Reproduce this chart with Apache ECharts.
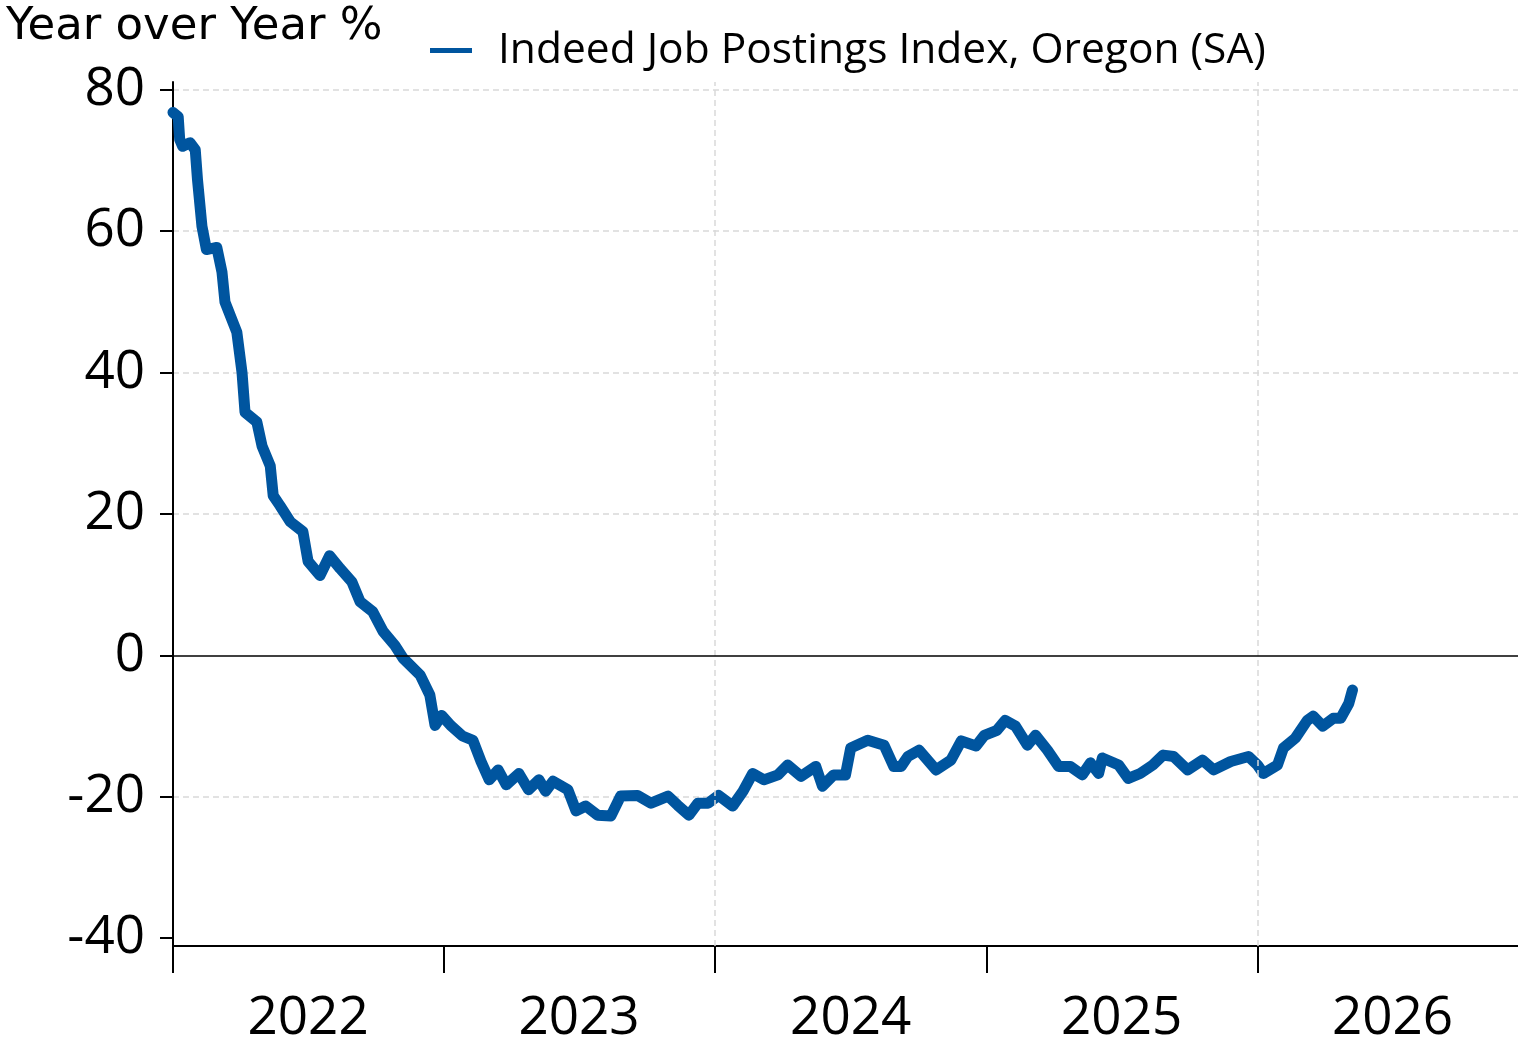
<!DOCTYPE html>
<html>
<head>
<meta charset="utf-8">
<script src="https://cdn.jsdelivr.net/npm/echarts@6/dist/echarts.min.js"></script>
<style>
  html, body { margin: 0; padding: 0; background: #fff; }
  #chart { width: 1518px; height: 1045px; }
</style>
</head>
<body>
<div id="chart"></div>
<script>
// Indeed Job Postings Index, Oregon (SA), year over year %
var dates = [
    '2022-01-01', '2022-01-08', '2022-01-10', '2022-01-14', '2022-01-24', '2022-01-31', '2022-02-03', '2022-02-09', '2022-02-15', '2022-03-01',
    '2022-03-08', '2022-03-12', '2022-03-28', '2022-04-04', '2022-04-08', '2022-04-24', '2022-05-01', '2022-05-12', '2022-05-16', '2022-05-25',
    '2022-06-08', '2022-06-25', '2022-07-02', '2022-07-18', '2022-07-31', '2022-08-14', '2022-08-30', '2022-09-10', '2022-09-27', '2022-10-11',
    '2022-10-27', '2022-11-07', '2022-11-30', '2022-12-13', '2022-12-20', '2022-12-29',
    '2023-01-10', '2023-01-26', '2023-02-09', '2023-02-20', '2023-03-03', '2023-03-15', '2023-03-26', '2023-04-12', '2023-04-25', '2023-05-09',
    '2023-05-18', '2023-05-28', '2023-06-17', '2023-06-28', '2023-07-11', '2023-07-27', '2023-08-14', '2023-08-27', '2023-09-19', '2023-10-07',
    '2023-10-30', '2023-11-12', '2023-11-27', '2023-12-09', '2023-12-23',
    '2024-01-06', '2024-01-25', '2024-02-08', '2024-02-21', '2024-03-07', '2024-03-26', '2024-04-08', '2024-04-26', '2024-05-16', '2024-05-25',
    '2024-06-09', '2024-06-25', '2024-07-02', '2024-07-25', '2024-08-16', '2024-08-29', '2024-09-08', '2024-09-17', '2024-10-02', '2024-10-25',
    '2024-11-14', '2024-11-28', '2024-12-18', '2024-12-29',
    '2025-01-15', '2025-01-26', '2025-02-09', '2025-02-25', '2025-03-08', '2025-03-24', '2025-04-08', '2025-04-24', '2025-05-10', '2025-05-21',
    '2025-06-01', '2025-06-06', '2025-06-28', '2025-07-11', '2025-07-27', '2025-08-13', '2025-08-27', '2025-09-10', '2025-09-29', '2025-10-19',
    '2025-11-03', '2025-11-26', '2025-12-20',
    '2026-01-01', '2026-01-09', '2026-01-28', '2026-02-05', '2026-02-21', '2026-03-09', '2026-03-17', '2026-03-30', '2026-04-13', '2026-04-23',
    '2026-05-04', '2026-05-09'
];
var yoy = [
    76.8, 76.2, 73, 72, 72.5, 71.5, 67.3, 60.7, 57.4, 57.7,
    54.2, 50, 45.7, 40, 34.4, 33, 29.6, 26.8, 22.6, 21.2,
    18.9, 17.5, 13.3, 11.3, 14.1, 12.3, 10.4, 7.6, 6.2, 3.4,
    1.4, -0.4, -2.8, -5.6, -9.9, -8.5,
    -9.9, -11.4, -12, -15, -17.6, -16.2, -18.3, -16.7, -19, -17.6,
    -19.2, -17.8, -19, -22, -21.3, -22.6, -22.7, -19.9, -19.8, -20.9,
    -19.9, -21.2, -22.6, -20.9, -20.9,
    -19.8, -21.3, -19.2, -16.7, -17.6, -16.9, -15.5, -17.1, -15.7, -18.5,
    -16.9, -16.9, -13.1, -12, -12.7, -15.7, -15.7, -14.3, -13.4, -16.2,
    -14.8, -12.1, -12.8, -11.3,
    -10.6, -9.2, -10, -12.7, -11.3, -13.4, -15.7, -15.7, -16.9, -15.2,
    -16.7, -14.5, -15.5, -17.4, -16.7, -15.5, -14.1, -14.3, -16.2, -14.8,
    -16.2, -15, -14.3,
    -15.5, -16.7, -15.5, -13.1, -11.7, -9.2, -8.6, -10, -8.9, -8.9,
    -6.8, -4.9
];
var yTicks = [-40, -20, 0, 20, 40, 60, 80];
var yearStarts = ['2022-01-01', '2023-01-01', '2024-01-01', '2025-01-01', '2026-01-01'];
var yearLabelDates = ['2022-07-02', '2023-07-02', '2024-07-02', '2025-07-02', '2026-07-02'];
var vGridDates = ['2024-01-01', '2026-01-01'];

var seriesName = 'Indeed Job Postings Index, Oregon (SA)';
var lineColor = '#00559f';
var gridColor = '#d9d9d9';

function ts(d) { return new Date(d + 'T00:00:00Z').getTime(); }

var chart = echarts.init(document.getElementById('chart'));

var option = {
    animation: false,
    backgroundColor: '#fff',
    title: {
        text: 'Year over Year %',
        left: 1,
        top: 0,
        textStyle: { fontFamily: 'DejaVu Sans', fontSize: 45, fontWeight: 'normal', color: '#000' }
    },
    legend: {
        data: [seriesName],
        left: 425,
        top: 24,
        icon: 'rect',
        itemWidth: 42,
        itemHeight: 5,
        textStyle: { fontFamily: 'Open Sans', fontSize: 42.5, color: '#000', padding: [0, 0, 0, 21] }
    },
    grid: { left: 173, right: 0, top: 82, bottom: 95, containLabel: false },
    xAxis: {
        // dates kept as timestamps on a value axis so ticks and labels can sit at custom spots
        type: 'value',
        min: ts('2022-01-01'),
        max: ts('2026-12-18'),
        axisLine: { onZero: false, lineStyle: { color: '#000', width: 2 } },
        axisTick: { show: true, length: 27, lineStyle: { color: '#000', width: 2 }, customValues: yearStarts.map(ts) },
        axisLabel: {
            customValues: yearLabelDates.map(ts),
            formatter: function (v) { return String(new Date(v).getUTCFullYear()); },
            fontFamily: 'Open Sans', fontSize: 53, color: '#000', margin: 46
        },
        splitLine: { show: false }
    },
    yAxis: {
        type: 'value',
        min: -41.1,
        max: 81.1,
        axisLine: { show: true, lineStyle: { color: '#000', width: 2 } },
        axisTick: { show: true, length: 13, lineStyle: { color: '#000', width: 2 }, customValues: yTicks },
        axisLabel: { customValues: yTicks, fontFamily: 'Open Sans', fontSize: 53, color: '#000', margin: 28 },
        splitLine: {
            show: true,
            lineStyle: {
                color: ['rgba(0,0,0,0)', gridColor, 'rgba(0,0,0,0)', gridColor, gridColor, gridColor, gridColor],
                type: [6, 4],
                width: 1.5
            }
        }
    },
    series: [
        {
            name: 'vgrid',
            type: 'line',
            data: [],
            z: 1,
            silent: true,
            markLine: {
                silent: true,
                symbol: ['none', 'none'],
                label: { show: false },
                lineStyle: { color: gridColor, type: [6, 4], width: 1.5 },
                data: vGridDates.map(function (d) { return { xAxis: ts(d) }; })
            }
        },
        {
            name: seriesName,
            type: 'line',
            z: 3,
            showSymbol: false,
            color: lineColor,
            lineStyle: { color: lineColor, width: 11, cap: 'round', join: 'round' },
            data: dates.map(function (d, i) { return [ts(d), yoy[i]]; }),
            markLine: {
                silent: true,
                symbol: ['none', 'none'],
                label: { show: false },
                lineStyle: { color: '#000', type: 'solid', width: 1.5 },
                data: [{ yAxis: 0 }]
            }
        }
    ]
};

option && chart.setOption(option);
window.addEventListener('resize', chart.resize);
</script>
</body>
</html>
